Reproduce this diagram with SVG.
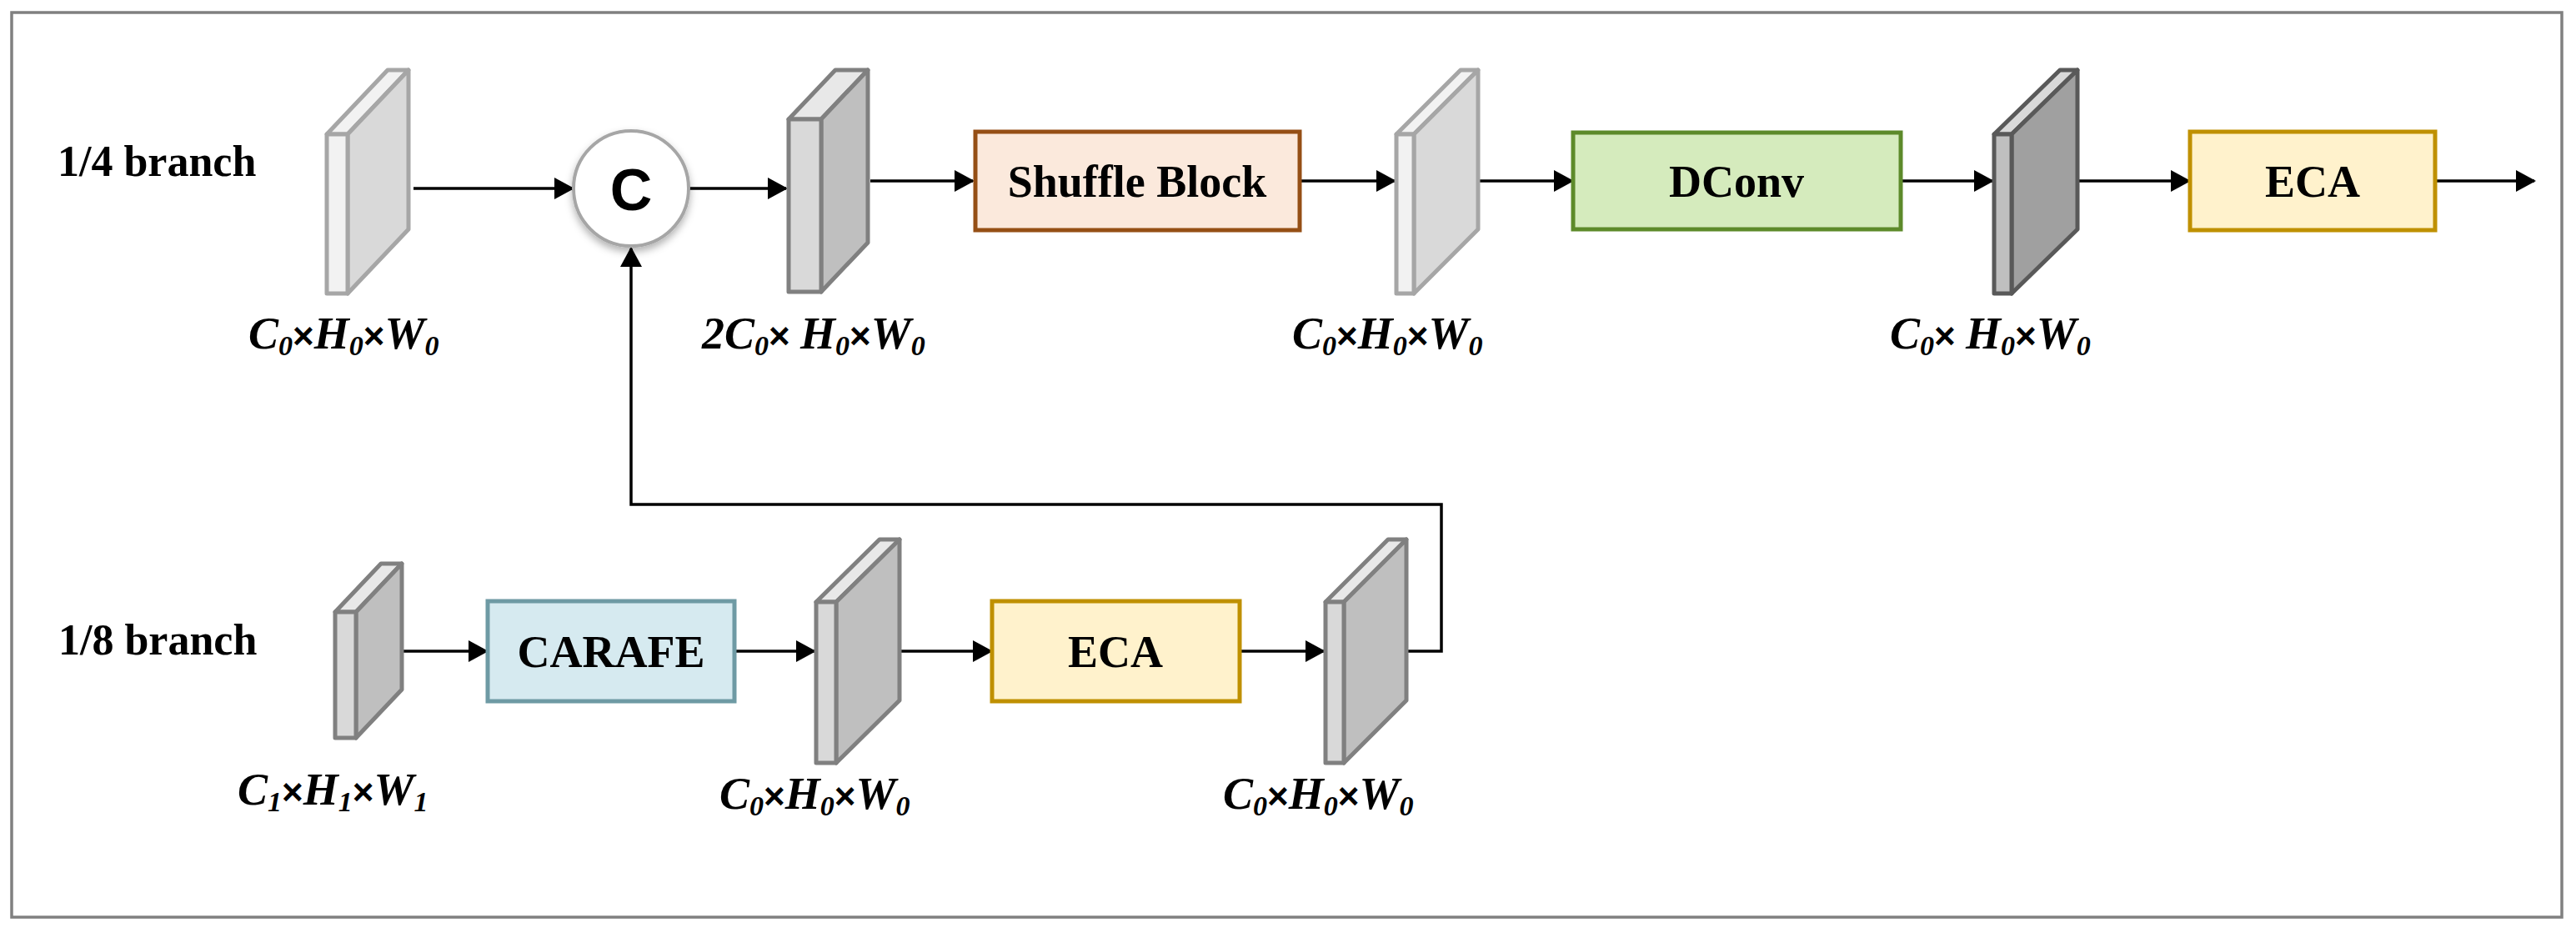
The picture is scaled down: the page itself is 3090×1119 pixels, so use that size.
<svg xmlns="http://www.w3.org/2000/svg" width="3090" height="1119" viewBox="0 0 3090 1119">
<style>
.lbl{font-family:"Liberation Serif",serif;font-weight:bold;font-size:52px;fill:#000}
.box{font-family:"Liberation Serif",serif;font-weight:bold;font-size:54px;fill:#000;text-anchor:middle}
.dim{font-family:"Liberation Serif",serif;font-weight:bold;font-style:italic;font-size:54px;fill:#000}
.x{font-family:"Liberation Sans",sans-serif;font-style:normal;font-size:44px}
.sub{font-size:34px}
.ln{stroke:#000;stroke-width:3.5;fill:none}
.m1{fill:#f2f2f2;stroke:#a6a6a6;stroke-width:5;stroke-linejoin:round}
.m1s{fill:#d9d9d9;stroke:#a6a6a6;stroke-width:5;stroke-linejoin:round}
.m2{fill:#d9d9d9;stroke:#808080;stroke-width:5;stroke-linejoin:round}
.m2t{fill:#e8e8e8;stroke:#808080;stroke-width:5;stroke-linejoin:round}
.m2s{fill:#bfbfbf;stroke:#808080;stroke-width:5;stroke-linejoin:round}
.m4{fill:#bfbfbf;stroke:#595959;stroke-width:5;stroke-linejoin:round}
.m4t{fill:#d9d9d9;stroke:#595959;stroke-width:5;stroke-linejoin:round}
.m4s{fill:#a0a0a0;stroke:#595959;stroke-width:5;stroke-linejoin:round}
</style>
<defs>
<marker id="ah" markerUnits="userSpaceOnUse" markerWidth="24" markerHeight="26" refX="22" refY="13" orient="auto"><path d="M0,0 L24,13 L0,26 Z" fill="#000"/></marker>
<filter id="sh" x="-30%" y="-30%" width="160%" height="160%"><feDropShadow dx="0" dy="5" stdDeviation="5" flood-color="#000" flood-opacity="0.3"/></filter>
</defs>
<rect width="3090" height="1119" fill="#fff"/>
<rect x="14" y="15" width="3059" height="1085" fill="none" stroke="#808080" stroke-width="3.5"/>
<text class="lbl" x="69" y="211">1/4 branch</text>
<text class="lbl" x="70" y="785">1/8 branch</text>
<g id="connectors">
<line class="ln" x1="496" y1="226" x2="687" y2="226" marker-end="url(#ah)"/>
<line class="ln" x1="826" y1="226" x2="943" y2="226" marker-end="url(#ah)"/>
<line class="ln" x1="1044" y1="217" x2="1167" y2="217" marker-end="url(#ah)"/>
<line class="ln" x1="1559" y1="217" x2="1673" y2="217" marker-end="url(#ah)"/>
<line class="ln" x1="1773" y1="217" x2="1886" y2="217" marker-end="url(#ah)"/>
<line class="ln" x1="2280" y1="217" x2="2390" y2="217" marker-end="url(#ah)"/>
<line class="ln" x1="2492" y1="217" x2="2626" y2="217" marker-end="url(#ah)"/>
<line class="ln" x1="2921" y1="217" x2="3040" y2="217" marker-end="url(#ah)"/>
<line class="ln" x1="482" y1="781" x2="584" y2="781" marker-end="url(#ah)"/>
<line class="ln" x1="881" y1="781" x2="977" y2="781" marker-end="url(#ah)"/>
<line class="ln" x1="1079" y1="781" x2="1189" y2="781" marker-end="url(#ah)"/>
<line class="ln" x1="1487" y1="781" x2="1588" y2="781" marker-end="url(#ah)"/>
<polyline class="ln" points="1687,781 1729,781 1729,605 757,605 757,298" marker-end="url(#ah)"/>
</g>
<g id="map1">
<polygon class="m1" points="392,161 417,161 490,84 465,84"/>
<polygon class="m1s" points="417,161 490,84 490,275 417,352"/>
<rect class="m1" x="392" y="161" width="25" height="191"/>
</g>
<g id="concat">
<circle cx="757" cy="226" r="69" fill="#fff" stroke="#a6a6a6" stroke-width="4" filter="url(#sh)"/>
<text x="757" y="252" font-family="Liberation Sans,sans-serif" font-weight="bold" font-size="70" text-anchor="middle">C</text>
</g>
<g id="map2">
<polygon class="m2t" points="946,143 985,143 1041,84 1002,84"/>
<polygon class="m2s" points="985,143 1041,84 1041,291 985,350"/>
<rect class="m2" x="946" y="143" width="39" height="207"/>
</g>
<g id="shuffle">
<rect x="1170" y="158" width="389" height="118" fill="#fbe9dc" stroke="#954f15" stroke-width="5"/>
<text class="box" x="1364" y="236">Shuffle Block</text>
</g>
<g id="map3">
<polygon class="m1" points="1675,161 1696,161 1773,84 1752,84"/>
<polygon class="m1s" points="1696,161 1773,84 1773,275 1696,352"/>
<rect class="m1" x="1675" y="161" width="21" height="191"/>
</g>
<g id="dconv">
<rect x="1887" y="159" width="393" height="116" fill="#d5ebbd" stroke="#5d8a2a" stroke-width="5"/>
<text class="box" x="2083" y="236">DConv</text>
</g>
<g id="map4">
<polygon class="m4t" points="2392,161 2413,161 2492,84 2471,84"/>
<polygon class="m4s" points="2413,161 2492,84 2492,275 2413,352"/>
<rect class="m4" x="2392" y="161" width="21" height="191"/>
</g>
<g id="eca1">
<rect x="2627" y="158" width="294" height="118" fill="#fff2cc" stroke="#bf9000" stroke-width="5"/>
<text class="box" x="2774" y="236">ECA</text>
</g>
<g id="map5">
<polygon class="m2t" points="402,734 427,734 482,676 457,676"/>
<polygon class="m2s" points="427,734 482,676 482,827 427,885"/>
<rect class="m2" x="402" y="734" width="25" height="151"/>
</g>
<g id="carafe">
<rect x="585" y="721" width="296" height="120" fill="#d6eaf0" stroke="#6e9aa4" stroke-width="5"/>
<text class="box" x="733" y="800">CARAFE</text>
</g>
<g id="map6">
<polygon class="m2t" points="979,722 1003,722 1079,647 1055,647"/>
<polygon class="m2s" points="1003,722 1079,647 1079,840 1003,915"/>
<rect class="m2" x="979" y="722" width="24" height="193"/>
</g>
<g id="eca2">
<rect x="1190" y="721" width="297" height="120" fill="#fff2cc" stroke="#bf9000" stroke-width="5"/>
<text class="box" x="1338" y="800">ECA</text>
</g>
<g id="map7">
<polygon class="m2t" points="1590,722 1612,722 1687,647 1665,647"/>
<polygon class="m2s" points="1612,722 1687,647 1687,840 1612,915"/>
<rect class="m2" x="1590" y="722" width="22" height="193"/>
</g>
<g id="dims">
<text class="dim" x="298" y="418">C<tspan class="sub" dy="8">0</tspan><tspan class="x" dy="-8">×</tspan>H<tspan class="sub" dy="8">0</tspan><tspan class="x" dy="-8">×</tspan>W<tspan class="sub" dy="8">0</tspan></text>
<text class="dim" x="842" y="418">2C<tspan class="sub" dy="8">0</tspan><tspan class="x" dy="-8">× </tspan>H<tspan class="sub" dy="8">0</tspan><tspan class="x" dy="-8">×</tspan>W<tspan class="sub" dy="8">0</tspan></text>
<text class="dim" x="1550" y="418">C<tspan class="sub" dy="8">0</tspan><tspan class="x" dy="-8">×</tspan>H<tspan class="sub" dy="8">0</tspan><tspan class="x" dy="-8">×</tspan>W<tspan class="sub" dy="8">0</tspan></text>
<text class="dim" x="2267" y="418">C<tspan class="sub" dy="8">0</tspan><tspan class="x" dy="-8">× </tspan>H<tspan class="sub" dy="8">0</tspan><tspan class="x" dy="-8">×</tspan>W<tspan class="sub" dy="8">0</tspan></text>
<text class="dim" x="285" y="965">C<tspan class="sub" dy="8">1</tspan><tspan class="x" dy="-8">×</tspan>H<tspan class="sub" dy="8">1</tspan><tspan class="x" dy="-8">×</tspan>W<tspan class="sub" dy="8">1</tspan></text>
<text class="dim" x="863" y="970">C<tspan class="sub" dy="8">0</tspan><tspan class="x" dy="-8">×</tspan>H<tspan class="sub" dy="8">0</tspan><tspan class="x" dy="-8">×</tspan>W<tspan class="sub" dy="8">0</tspan></text>
<text class="dim" x="1467" y="970">C<tspan class="sub" dy="8">0</tspan><tspan class="x" dy="-8">×</tspan>H<tspan class="sub" dy="8">0</tspan><tspan class="x" dy="-8">×</tspan>W<tspan class="sub" dy="8">0</tspan></text>
</g>
</svg>
